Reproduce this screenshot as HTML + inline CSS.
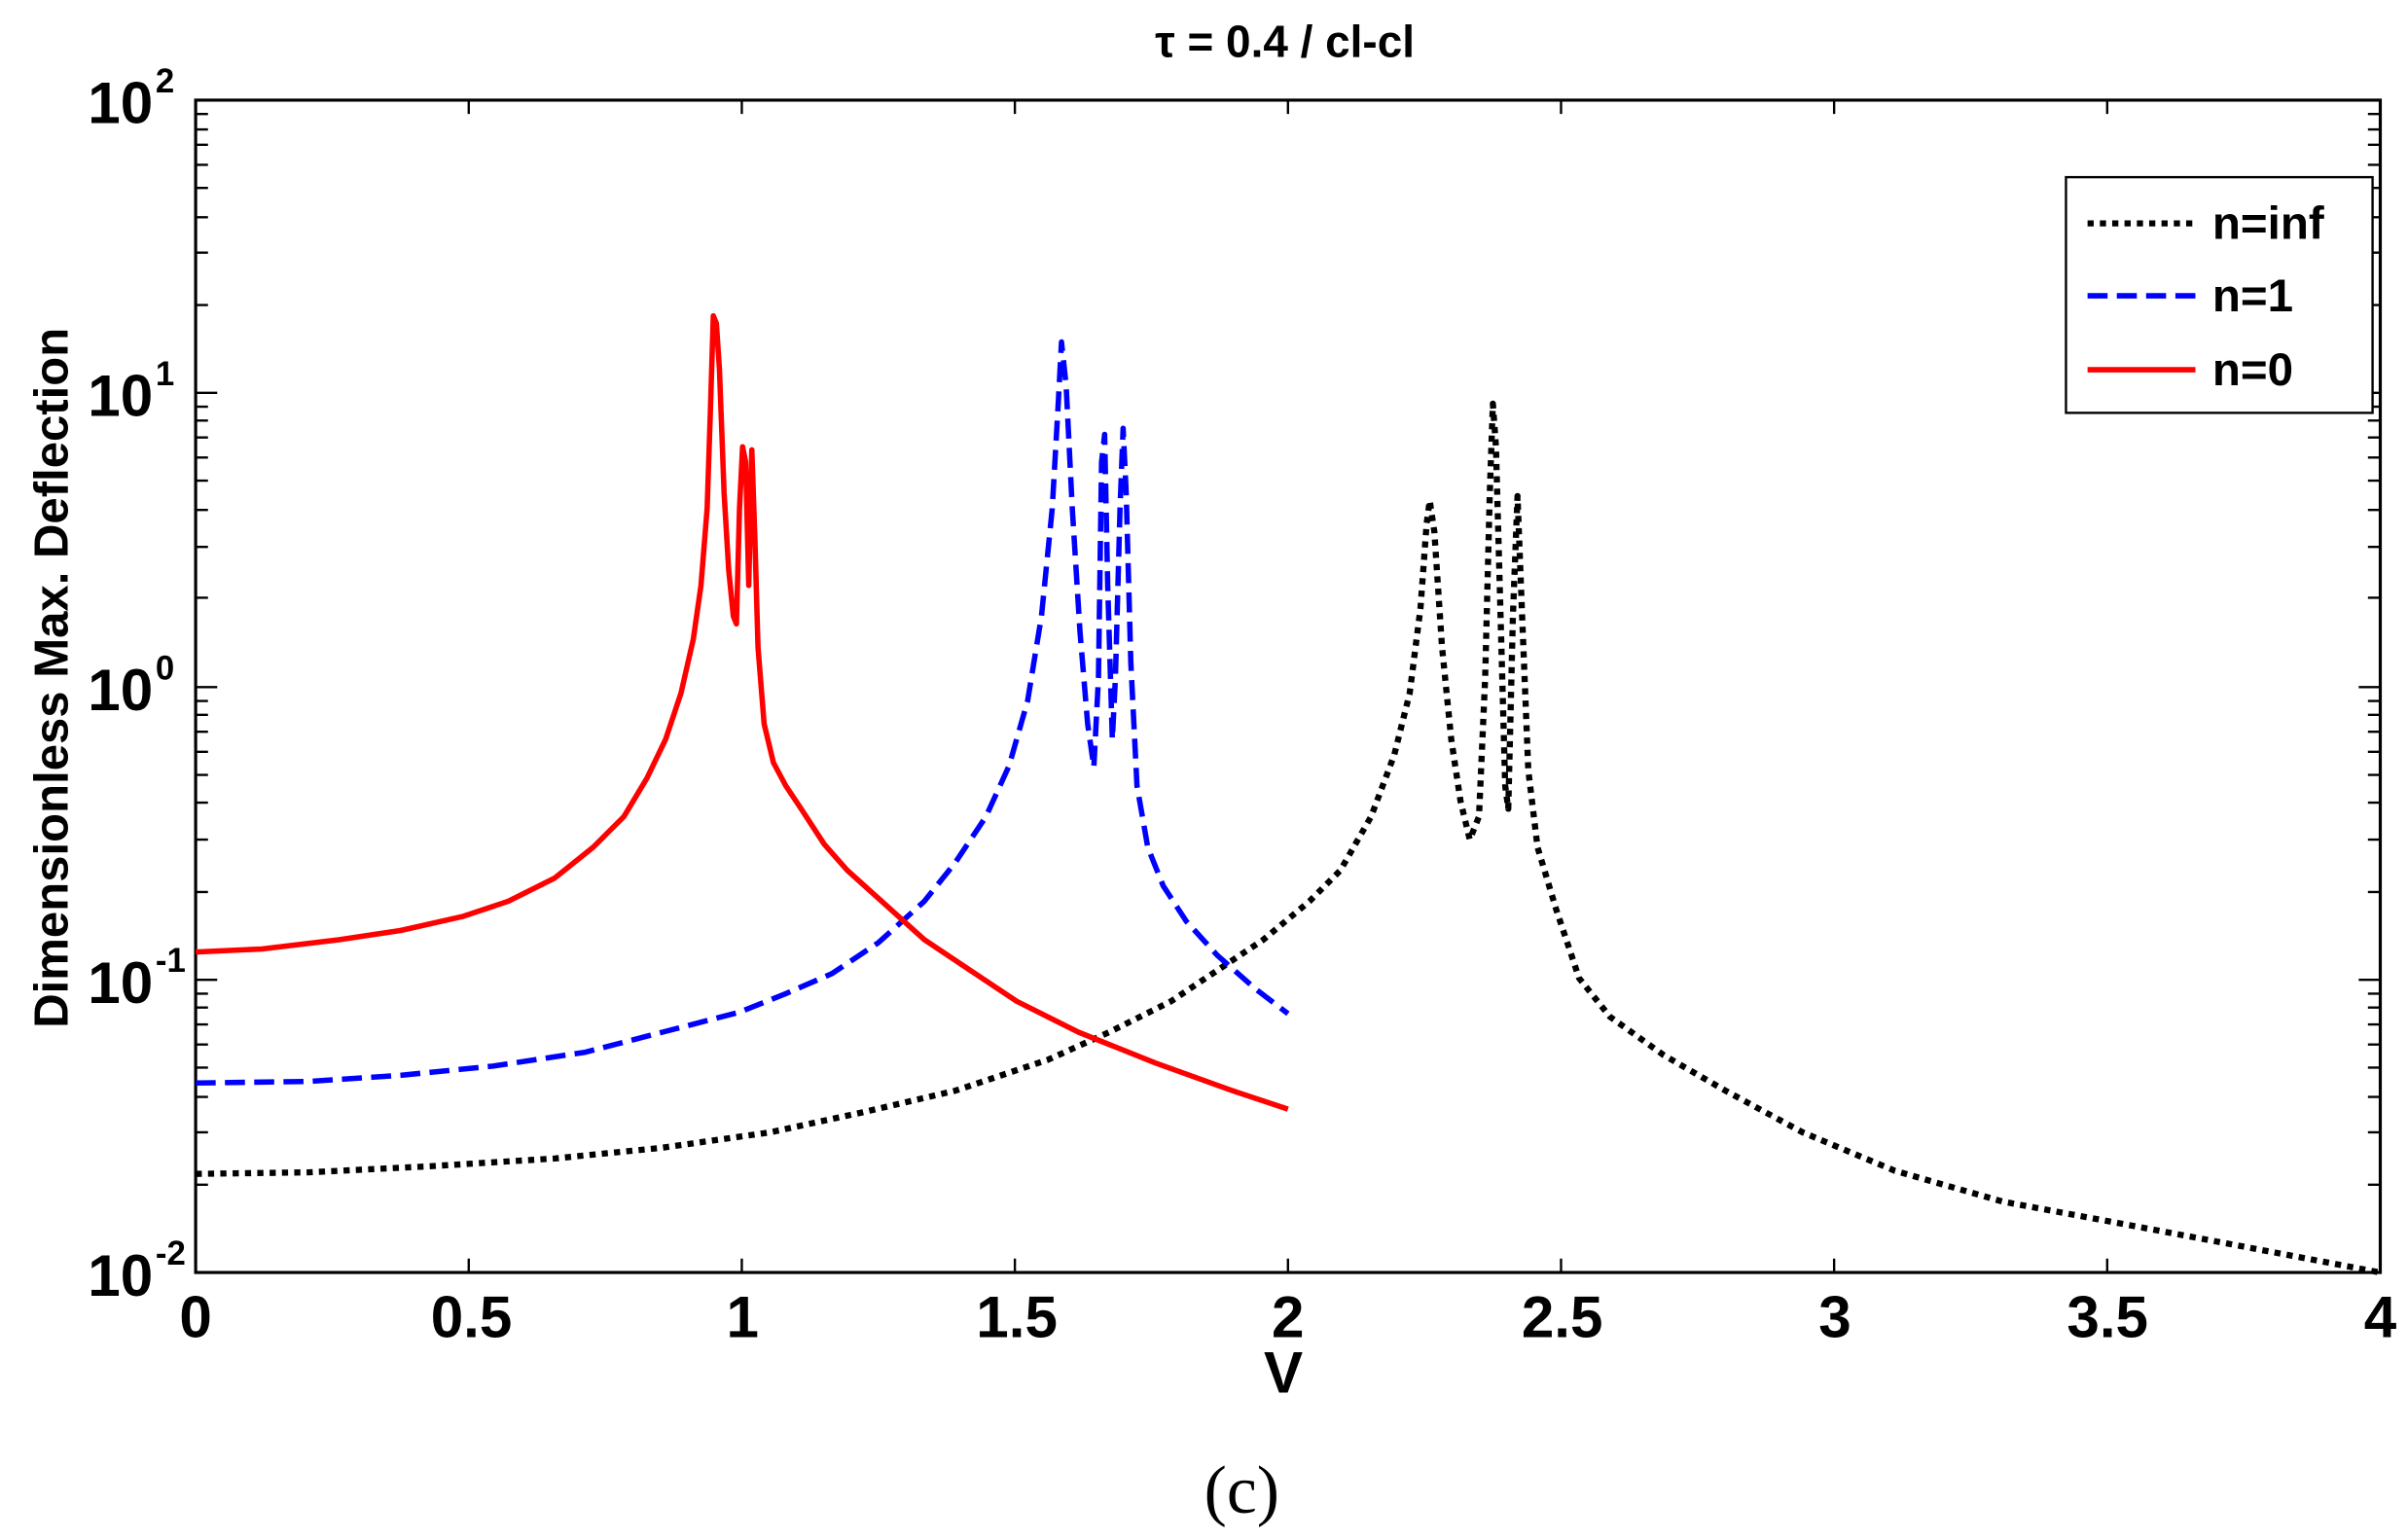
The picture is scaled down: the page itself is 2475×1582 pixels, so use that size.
<!DOCTYPE html>
<html><head><meta charset="utf-8"><style>html,body{margin:0;padding:0;background:#fff}svg{display:block}</style></head>
<body>
<svg width="2475" height="1582" viewBox="0 0 1563 999" preserveAspectRatio="none" xmlns="http://www.w3.org/2000/svg" font-family="Liberation Sans, Arial, sans-serif">
<rect width="1563" height="999" fill="#fff"/>
<text x="834" y="37" font-size="29" font-weight="bold" text-anchor="middle">τ = 0.4 / cl-cl</text>
<rect x="127" y="65" width="1418" height="761" fill="none" stroke="#000" stroke-width="2"/>
<g stroke="#000" stroke-width="1.5">
<path d="M304.25,826v-9M481.5,826v-9M658.75,826v-9M836,826v-9M1013.25,826v-9M1190.5,826v-9M1367.75,826v-9M304.25,65v9M481.5,65v9M658.75,65v9M836,65v9M1013.25,65v9M1190.5,65v9M1367.75,65v9"/>
<path d="M127,255h14M127,446h14M127,636h14M1545,255h-14M1545,446h-14M1545,636h-14"/>
<path id="mn" d="M127,198h8M127,164h8M127,141h8M127,122h8M127,107h8M127,94h8M127,84h8M127,74h8
M127,388h8M127,355h8M127,331h8M127,312h8M127,297h8M127,284h8M127,273h8M127,264h8
M127,579h8M127,545h8M127,521h8M127,503h8M127,488h8M127,475h8M127,464h8M127,455h8
M127,769h8M127,735h8M127,712h8M127,693h8M127,678h8M127,665h8M127,654h8M127,645h8"/>
<use href="#mn" transform="translate(1672,0) scale(-1,1)"/>
</g>
<g font-size="38" font-weight="bold" text-anchor="middle">
<text x="127" y="868">0</text><text x="306" y="868">0.5</text><text x="482" y="868">1</text><text x="660" y="868">1.5</text><text x="836" y="868">2</text><text x="1014" y="868">2.5</text><text x="1191" y="868">3</text><text x="1368" y="868">3.5</text><text x="1545" y="868">4</text>
</g>
<g font-size="38" font-weight="bold">
<text x="57" y="80">10</text><text x="101" y="60" font-size="22">2</text>
<text x="57" y="270">10</text><text x="101" y="250" font-size="22">1</text>
<text x="57" y="461">10</text><text x="101" y="441" font-size="22">0</text>
<text x="57" y="651">10</text><text x="101" y="631" font-size="22">-1</text>
<text x="57" y="841">10</text><text x="101" y="821" font-size="22">-2</text>
</g>
<text x="833" y="904" font-size="38" font-weight="bold" text-anchor="middle">V</text>
<text transform="translate(44,440) rotate(-90)" font-size="31" font-weight="bold" text-anchor="middle">Dimensionless Max. Deflection</text>
<text x="806" y="982" font-size="44" font-family="Liberation Serif, serif" text-anchor="middle">(c)</text>
<polyline fill="none" stroke="#000" stroke-width="4" stroke-dasharray="4,4" stroke-linejoin="round" points="127,762 200,761 280,757 360,752 430,745 500,735 560,722 620,708 680,688 720,670 760,650 790,630 820,610 850,585 870,565 890,530 905,490 915,450 922,395 926,340 928,325 931,345 936,420 942,480 948,520 954,545 960,530 964,440 967,320 969,262 971,290 974,400 977,510 979,525 982,400 985,322 988,400 992,500 998,550 1010,590 1025,635 1045,660 1080,685 1120,708 1170,735 1230,760 1300,780 1370,793 1450,808 1545,826"/>
<polyline fill="none" stroke="#0000ff" stroke-width="3.5" stroke-dasharray="13,6" stroke-linejoin="round" points="127,703 200,702 260,698 320,692 380,683 430,670 480,657 510,645 540,632 570,612 600,585 620,560 640,530 655,497 667,455 676,400 683,330 687,260 689,222 692,250 696,330 701,410 706,470 710,498 713,440 715,300 717,282 719,380 722,480 724,440 727,330 729,278 731,320 734,430 738,510 745,550 755,575 770,598 790,620 815,642 836,658"/>
<polyline fill="none" stroke="#ff0000" stroke-width="3.5" stroke-linejoin="round" points="127,618 170,616 220,610 260,604 300,595 330,585 360,570 385,550 405,530 420,505 432,480 442,450 450,415 455,380 459,330 461,270 463,205 465,210 467,240 470,320 473,370 476,400 478,405 480,330 482,290 484,300 486,380 488,292 490,350 492,420 496,470 502,495 510,510 520,525 535,548 550,565 570,583 600,610 630,630 660,650 700,670 750,690 800,708 836,720"/>
<rect x="1341" y="115" width="199" height="153" fill="#fff" stroke="#000" stroke-width="1.5"/>
<line x1="1355" y1="145" x2="1425" y2="145" stroke="#000" stroke-width="4" stroke-dasharray="4,4"/>
<line x1="1355" y1="192" x2="1425" y2="192" stroke="#0000ff" stroke-width="3.5" stroke-dasharray="13,6"/>
<line x1="1355" y1="240" x2="1425" y2="240" stroke="#ff0000" stroke-width="3.5"/>
<g font-size="30" font-weight="bold">
<text x="1436" y="155">n=inf</text><text x="1436" y="202">n=1</text><text x="1436" y="250">n=0</text>
</g>
</svg>
</body></html>
